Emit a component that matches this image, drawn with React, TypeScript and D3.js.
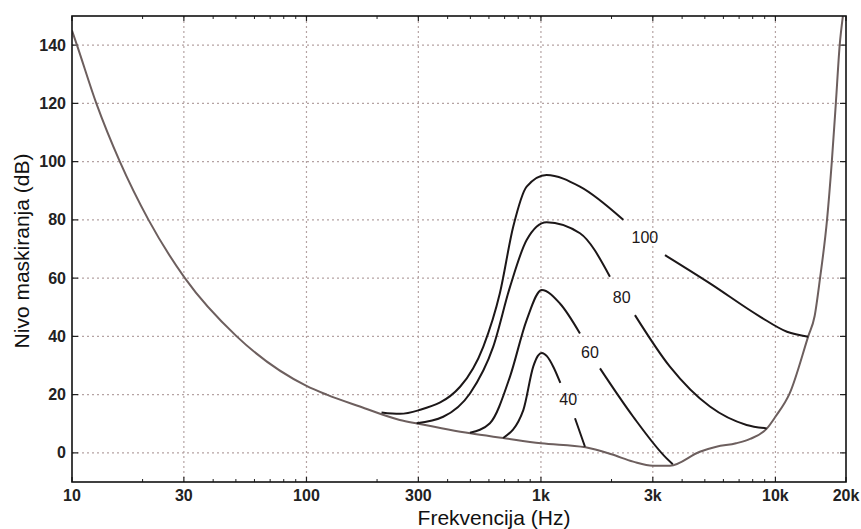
import React from "react";
import * as d3 from "d3";

const W = 861;
const H = 529;
const M = { left: 72, right: 846, top: 16, bottom: 482 };

// Threshold of hearing (quiet) curve
const thrFreq = [10, 10.5, 12.7, 16, 21.2, 30.3, 50.4, 100, 122, 169, 250, 300, 500, 690, 1000, 1550, 2000, 2475, 3000, 3550, 4760, 5600, 6800, 7800, 9200, 10000, 11500, 13800, 14700, 15500, 16600, 17400, 18100, 18800, 19400];
const thrDb = [145, 140, 120, 100, 80, 60, 40, 23, 20, 15.9, 11.3, 10.0, 6.7, 5.1, 3.3, 1.9, -0.5, -3, -4.4, -4.4, 0.4, 2.1, 3.3, 4.8, 8.4, 12.4, 20.4, 40, 47, 60, 80, 100, 120, 140, 150];

// Masking curves: null splits the line where the label sits
const m100Freq = [209, 250, 300, 452, 568, 668, 762, 869, 1057, 1467, 2244, null, 3380, 5256, 8590, 11200, 13800];
const m100Db = [13.9, 13.4, 14.6, 22.7, 36.5, 54.8, 77.7, 91.4, 95.4, 91.4, 80, null, 67.9, 58.2, 46.8, 41.6, 39.9];
const m80Freq = [295, 383, 498, 626, 738, 869, 1057, 1467, 1969, null, 2517, 3548, 5256, 7535, 9170];
const m80Db = [10.2, 12.4, 20.4, 36.5, 57, 73.1, 79.2, 75.4, 60.5, null, 47.3, 29.6, 15.9, 9.6, 8.4];
const m60Freq = [498, 606, 738, 869, 1007, 1205, 1467, null, 1786, 2475, 3436, 3650];
const m60Db = [6.9, 10.2, 26.2, 45.6, 55.9, 51.3, 41, null, 29, 12.4, -1.9, -3.9];
const m40Freq = [690, 841, 927, 970, 1010, 1060, 1130, 1210, null, 1397, 1541];
const m40Db = [5.1, 14.7, 29.6, 33.3, 34.3, 33.2, 29.5, 24, null, 11.9, 2.1];

const labelText = ["100", "80", "60", "40"];
const labelFreq = [2776, 2209, 1618, 1307];
const labelDb = [73.8, 53.5, 34.6, 18.2];

const xTickVals = [10, 30, 100, 300, 1000, 3000, 10000, 20000];
const xTickText = ["10", "30", "100", "300", "1k", "3k", "10k", "20k"];
const yTickVals = [0, 20, 40, 60, 80, 100, 120, 140];

const x = d3.scaleLog().domain([10, 20000]).range([M.left, M.right]);
const y = d3.scaleLinear().domain([-10, 150]).range([M.bottom, M.top]);

type P = [number, number] | null;
const zip = (f: (number | null)[], v: (number | null)[]): P[] =>
  f.map((fv, i) => (fv == null || v[i] == null ? null : [fv as number, v[i] as number]));

const line = d3
  .line<P>()
  .defined((d) => d != null)
  .x((d) => x((d as [number, number])[0]))
  .y((d) => y((d as [number, number])[1]))
  .curve(d3.curveMonotoneX);

const minorTicks: number[] = [];
for (let dec = 10; dec < 20000; dec *= 10) {
  for (let k = 2; k <= 9; k++) {
    const v = dec * k;
    if (v < 20000 && !xTickVals.includes(v)) minorTicks.push(v);
  }
}

const tickFont = "'Liberation Sans Narrow', 'Arial Narrow', Arial, sans-serif";
const gridColor = "#b5a3a3";

export default function App() {
  const masks = [zip(m100Freq, m100Db), zip(m80Freq, m80Db), zip(m60Freq, m60Db), zip(m40Freq, m40Db)];
  return (
    <svg width={W} height={H} style={{ position: "absolute", left: 0, top: 0, background: "#fff" }}>
      <defs>
        <clipPath id="plot">
          <rect x={M.left} y={M.top} width={M.right - M.left} height={M.bottom - M.top} />
        </clipPath>
      </defs>
      {/* grid */}
      {xTickVals.slice(1, -1).map((v) => (
        <line key={"gx" + v} x1={x(v)} x2={x(v)} y1={M.top} y2={M.bottom} stroke={gridColor} strokeWidth={1.2} strokeDasharray="2,3" />
      ))}
      {yTickVals.map((v) => (
        <line key={"gy" + v} x1={M.left} x2={M.right} y1={y(v)} y2={y(v)} stroke={gridColor} strokeWidth={1.2} strokeDasharray="2,3" />
      ))}
      {/* ticks */}
      {yTickVals.map((v) => (
        <g key={"ty" + v}>
          <line x1={M.left} x2={M.left + 6} y1={y(v)} y2={y(v)} stroke="#222" strokeWidth={1.2} />
          <line x1={M.right - 6} x2={M.right} y1={y(v)} y2={y(v)} stroke="#222" strokeWidth={1.2} />
        </g>
      ))}
      {xTickVals.map((v) => (
        <g key={"tx" + v}>
          <line x1={x(v)} x2={x(v)} y1={M.bottom} y2={M.bottom - 5} stroke="#222" strokeWidth={1.2} />
          <line x1={x(v)} x2={x(v)} y1={M.top} y2={M.top + 5} stroke="#222" strokeWidth={1.2} />
        </g>
      ))}
      {minorTicks.map((v) => (
        <g key={"mx" + v}>
          <line x1={x(v)} x2={x(v)} y1={M.bottom} y2={M.bottom - 3} stroke="#222" strokeWidth={1} />
          <line x1={x(v)} x2={x(v)} y1={M.top} y2={M.top + 3} stroke="#222" strokeWidth={1} />
        </g>
      ))}
      {/* curves */}
      <g clipPath="url(#plot)">
        <path d={line(zip(thrFreq, thrDb)) || ""} fill="none" stroke="#6d5f5e" strokeWidth={2} />
        {masks.map((m, i) => (
          <path key={"m" + i} d={line(m) || ""} fill="none" stroke="#1c1718" strokeWidth={2} />
        ))}
      </g>
      {labelText.map((t, i) => (
        <text key={"lb" + t} x={x(labelFreq[i])} y={y(labelDb[i])} textAnchor="middle" dominantBaseline="central" fontFamily="Arial, 'Liberation Sans', sans-serif" fontSize={16} fill="#1c1718">
          {t}
        </text>
      ))}
      {/* frame */}
      <rect x={M.left} y={M.top} width={M.right - M.left} height={M.bottom - M.top} fill="none" stroke="#111" strokeWidth={1.6} />
      {/* tick labels */}
      {yTickVals.map((v) => (
        <text key={"yl" + v} x={M.left - 6} y={y(v)} textAnchor="end" dominantBaseline="central" fontFamily={tickFont} fontWeight="bold" fontSize={16} fill="#222">
          {v}
        </text>
      ))}
      {xTickVals.map((v, i) => (
        <text key={"xl" + v} x={x(v)} y={M.bottom + 13} textAnchor="middle" dominantBaseline="central" fontFamily={tickFont} fontWeight="bold" fontSize={16} fill="#222">
          {xTickText[i]}
        </text>
      ))}
      {/* axis titles */}
      <text x={494} y={525} textAnchor="middle" fontFamily="Arial, 'Liberation Sans', sans-serif" fontSize={21} fill="#111">
        Frekvencija (Hz)
      </text>
      <text transform={`translate(29, 251) rotate(-90)`} textAnchor="middle" fontFamily="Arial, 'Liberation Sans', sans-serif" fontSize={21} fill="#111">
        Nivo maskiranja (dB)
      </text>
    </svg>
  );
}
